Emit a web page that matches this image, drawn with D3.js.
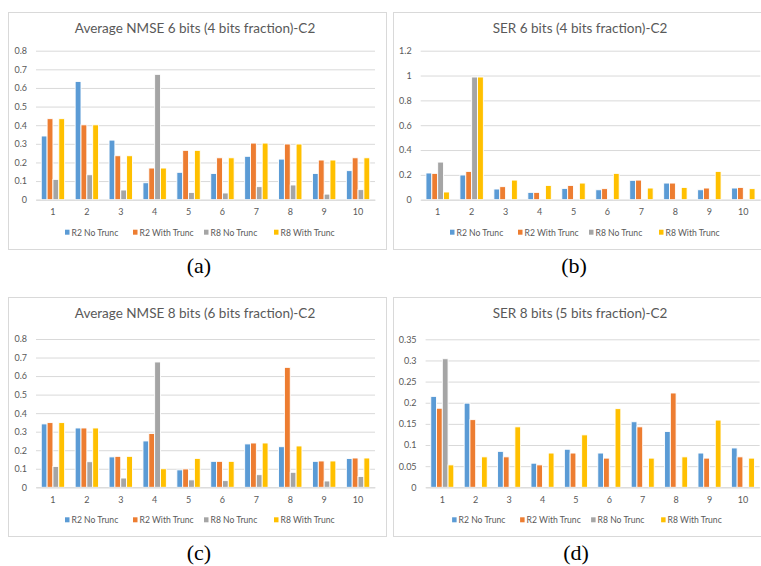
<!DOCTYPE html>
<html>
<head>
<meta charset="utf-8">
<script src="https://cdn.jsdelivr.net/npm/d3@7/dist/d3.min.js"></script>
<style>
  html, body { margin: 0; padding: 0; background: #fff; }
  svg { display: block; }
  .sans { font-family: Lato, "Open Sans", sans-serif; }
  .serif { font-family: "Liberation Serif", "DejaVu Serif", serif; }
</style>
</head>
<body>
<div id="chart"></div>
<script>
// ── Data ────────────────────────────────────────────────────────────────
var categories = ['1', '2', '3', '4', '5', '6', '7', '8', '9', '10'];
var seriesNames = ['R2 No Trunc', 'R2 With Trunc', 'R8 No Trunc', 'R8 With Trunc'];
var seriesColors = ['#5B9BD5', '#ED7D31', '#A5A5A5', '#FFC000'];

// (a) Average NMSE 6 bits
var nmse6_r2No   = [0.342, 0.635, 0.320, 0.091, 0.147, 0.141, 0.233, 0.218, 0.141, 0.156];
var nmse6_r2With = [0.435, 0.402, 0.236, 0.170, 0.265, 0.225, 0.304, 0.299, 0.213, 0.225];
var nmse6_r8No   = [0.109, 0.134, 0.052, 0.673, 0.039, 0.036, 0.070, 0.079, 0.030, 0.054];
var nmse6_r8With = [0.435, 0.402, 0.236, 0.170, 0.265, 0.225, 0.304, 0.299, 0.213, 0.225];

// (b) SER 6 bits
var ser6_r2No   = [0.215, 0.199, 0.086, 0.059, 0.091, 0.080, 0.156, 0.134, 0.080, 0.094];
var ser6_r2With = [0.212, 0.228, 0.105, 0.059, 0.115, 0.089, 0.158, 0.134, 0.094, 0.099];
var ser6_r8No   = [0.303, 0.988, 0, 0, 0, 0, 0, 0, 0, 0];
var ser6_r8With = [0.062, 0.988, 0.158, 0.115, 0.134, 0.212, 0.094, 0.099, 0.228, 0.089];

// (c) Average NMSE 8 bits
var nmse8_r2No   = [0.342, 0.320, 0.164, 0.250, 0.094, 0.140, 0.234, 0.219, 0.140, 0.155];
var nmse8_r2With = [0.349, 0.320, 0.167, 0.290, 0.099, 0.140, 0.239, 0.647, 0.142, 0.158];
var nmse8_r8No   = [0.112, 0.138, 0.050, 0.676, 0.040, 0.036, 0.068, 0.081, 0.034, 0.058];
var nmse8_r8With = [0.349, 0.320, 0.167, 0.100, 0.156, 0.140, 0.239, 0.223, 0.142, 0.158];

// (d) SER 8 bits
var ser8_r2No   = [0.215, 0.199, 0.085, 0.057, 0.090, 0.081, 0.155, 0.132, 0.081, 0.093];
var ser8_r2With = [0.187, 0.160, 0.072, 0.053, 0.081, 0.069, 0.143, 0.223, 0.069, 0.072];
var ser8_r8No   = [0.304, 0, 0, 0, 0, 0, 0, 0, 0, 0];
var ser8_r8With = [0.053, 0.072, 0.143, 0.081, 0.124, 0.186, 0.069, 0.072, 0.159, 0.069];

var ticksNmse = [0, 0.1, 0.2, 0.3, 0.4, 0.5, 0.6, 0.7, 0.8];
var ticksSer6 = [0, 0.2, 0.4, 0.6, 0.8, 1, 1.2];
var ticksSer8 = [0, 0.05, 0.1, 0.15, 0.2, 0.25, 0.3, 0.35];

var W = 761, H = 566;
var svg = d3.select('#chart').append('svg').attr('width', W).attr('height', H);
svg.append('rect').attr('width', W).attr('height', H).attr('fill', '#fff');

var panels = [
    { title: 'Average NMSE 6 bits (4 bits fraction)-C2', caption: '(a)', capX: 199,
      series: [nmse6_r2No, nmse6_r2With, nmse6_r8No, nmse6_r8With], ticks: ticksNmse,
      box: [8, 12, 386, 249], plot: [36, 50.7, 375, 199.7] },
    { title: 'SER 6 bits (4 bits fraction)-C2', caption: '(b)', capX: 574,
      series: [ser6_r2No, ser6_r2With, ser6_r8No, ser6_r8With], ticks: ticksSer6,
      box: [393, 12, 771, 249], plot: [420.7, 50.7, 760.3, 199.7] },
    { title: 'Average NMSE 8 bits (6 bits fraction)-C2', caption: '(c)', capX: 199,
      series: [nmse8_r2No, nmse8_r2With, nmse8_r8No, nmse8_r8With], ticks: ticksNmse,
      box: [8, 297, 386, 536], plot: [36, 339, 375, 487.3] },
    { title: 'SER 8 bits (5 bits fraction)-C2', caption: '(d)', capX: 576,
      series: [ser8_r2No, ser8_r2With, ser8_r8No, ser8_r8With], ticks: ticksSer8,
      box: [393, 297, 771, 536], plot: [425.6, 339.3, 759.6, 487.3] }
];

panels.forEach(drawPanel);

function drawPanel(p) {
    var bx0 = p.box[0], by0 = p.box[1], bx1 = p.box[2], by1 = p.box[3];
    var px0 = p.plot[0], py0 = p.plot[1], px1 = p.plot[2], py1 = p.plot[3];
    var cx = (bx0 + bx1) / 2;

    svg.append('rect')
        .attr('x', bx0 + 0.5).attr('y', by0 + 0.5)
        .attr('width', bx1 - bx0).attr('height', by1 - by0)
        .attr('fill', '#fff').attr('stroke', '#d9d9d9').attr('stroke-width', 1);

    svg.append('text')
        .attr('class', 'sans')
        .attr('x', cx - 2).attr('y', by0 + 21)
        .attr('text-anchor', 'middle')
        .attr('font-size', 13.5).attr('fill', '#595959')
        .text(p.title);

    var y = d3.scaleLinear()
        .domain([0, d3.max(p.ticks)])
        .range([py1, py0]);

    var x = d3.scaleBand().domain(categories)
        .range([px0, px1]).paddingInner(0.31).paddingOuter(0.155);
    var xs = d3.scaleBand().domain(d3.range(4)).range([0, x.bandwidth()]);

    var g = svg.append('g');

    // gridlines + y labels via axis
    var yAxis = g.append('g')
        .attr('transform', 'translate(' + px0 + ',0)')
        .call(d3.axisLeft(y).tickValues(p.ticks).tickSize(-(px1 - px0)).tickPadding(9)
            .tickFormat(function (v) { return String(+v.toFixed(2)); }));
    yAxis.select('.domain').remove();
    yAxis.selectAll('line').attr('stroke', '#d9d9d9').attr('stroke-width', 1);
    yAxis.selectAll('text').attr('class', 'sans').attr('fill', '#595959').attr('font-size', 9);

    // bars
    p.series.forEach(function (vals, si) {
        g.append('g').selectAll('rect')
            .data(vals.map(function (v, i) { return { c: categories[i], v: v }; })
                .filter(function (d) { return d.v > 0; }))
            .enter().append('rect')
            .attr('x', function (d) { return x(d.c) + xs(si); })
            .attr('width', xs.bandwidth())
            .attr('y', function (d) { return y(d.v); })
            .attr('height', function (d) { return y(0) - y(d.v); })
            .attr('fill', seriesColors[si])
            .attr('stroke', '#fff').attr('stroke-width', 0.9);
    });

    // x axis
    var xAxis = g.append('g')
        .attr('transform', 'translate(0,' + py1 + ')')
        .call(d3.axisBottom(x).tickSize(0).tickPadding(9));
    xAxis.select('.domain').attr('stroke', '#d9d9d9');
    xAxis.selectAll('text').attr('class', 'sans').attr('fill', '#595959').attr('font-size', 9);

    // legend
    var legY = py1 + 36;
    var itemX = [0, 68, 139, 209];
    var legW = 271;
    var lx0 = (px0 + px1) / 2 - legW / 2 - 5;
    var leg = g.append('g').attr('transform', 'translate(' + lx0 + ',' + legY + ')');
    seriesNames.forEach(function (name, i) {
        var it = leg.append('g').attr('transform', 'translate(' + itemX[i] + ',0)');
        it.append('rect').attr('x', 0).attr('y', -6).attr('width', 4.5).attr('height', 5)
            .attr('fill', seriesColors[i]);
        it.append('text').attr('class', 'sans').attr('x', 6.5).attr('y', 0)
            .attr('font-size', 8.6).attr('fill', '#595959')
            .text(name);
    });

    // caption
    svg.append('text')
        .attr('class', 'serif')
        .attr('x', p.capX).attr('y', by1 + 24)
        .attr('text-anchor', 'middle')
        .attr('font-size', 22).attr('fill', '#000')
        .text(p.caption);
}
</script>
</body>
</html>
